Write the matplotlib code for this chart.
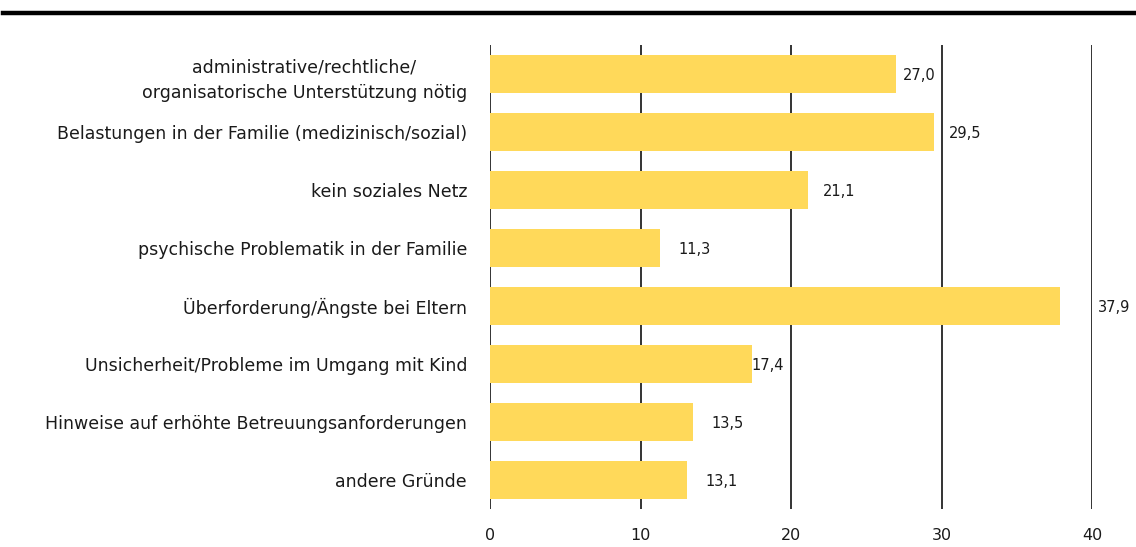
import matplotlib
matplotlib.use("Agg")
import matplotlib.pyplot as plt
from matplotlib.lines import Line2D

categories = [
    "administrative/rechtliche/\norganisatorische Unterstützung nötig",
    "Belastungen in der Familie (medizinisch/sozial)",
    "kein soziales Netz",
    "psychische Problematik in der Familie",
    "Überforderung/Ängste bei Eltern",
    "Unsicherheit/Probleme im Umgang mit Kind",
    "Hinweise auf erhöhte Betreuungsanforderungen",
    "andere Gründe",
]
values = [27.0, 29.5, 21.1, 11.3, 37.9, 17.4, 13.5, 13.1]
value_labels = ["27,0", "29,5", "21,1", "11,3", "37,9", "17,4", "13,5", "13,1"]
label_offsets = [0.45, 1.0, 1.0, 1.2, 2.5, 0.0, 1.2, 1.2]
xticks = [0, 10, 20, 30, 40]

plt.rcParams['font.family'] = ['DejaVu Sans']

fig = plt.figure(figsize=(11.36, 5.47), dpi=100)
ax = fig.add_axes([490/1136, 1 - 509/547, (1092 - 490)/1136, (509 - 45)/547])

bar_color = '#FFD95A'
y = list(range(len(categories)))
ax.barh(y, values, height=0.66, color=bar_color, zorder=2)

for yi, v, lab, off in zip(y, values, value_labels, label_offsets):
    ax.text(v + off, yi + 0.03, lab, va='center', ha='left', fontsize=10.5, color='#1a1a1a')

ax.set_xlim(0, 40)
ax.set_ylim(7.5, -0.5)
ax.set_xticks(xticks)
ax.set_xticklabels([str(t) for t in xticks], fontsize=11.5, color='#1a1a1a')
ax.set_yticks(y)
ax.set_yticklabels(categories, fontsize=12.5, multialignment='center', linespacing=1.55,
                   color='#1a1a1a')
ax.tick_params(axis='x', length=0, pad=14)
ax.tick_params(axis='y', length=0, pad=16.5)

for t in xticks:
    ax.axvline(t, color='#111111', lw=1.2, zorder=1)

for s in ax.spines.values():
    s.set_visible(False)

fig.add_artist(Line2D([0.003, 1.0], [1 - 13/547, 1 - 13/547], color='black', lw=3.2,
                      transform=fig.transFigure))

fig.savefig('out.png', dpi=100)
